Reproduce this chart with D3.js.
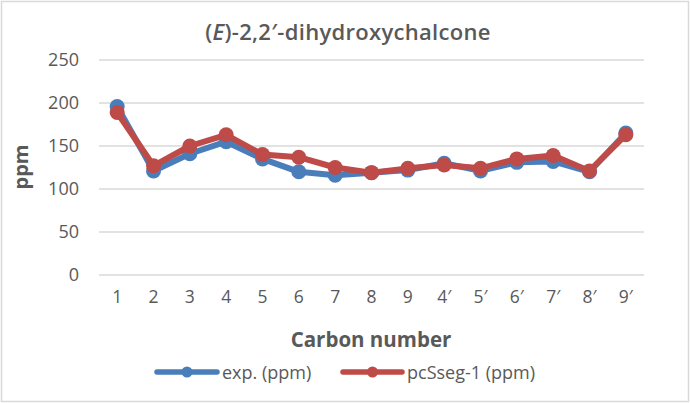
<!DOCTYPE html>
<html>
<head>
<meta charset="utf-8">
<script src="https://cdn.jsdelivr.net/npm/d3@7"></script>
<style>
  body { margin: 0; background: #fff; }
  text { font-family: "Open Sans", "Noto Sans", sans-serif; fill: #595959; }
</style>
</head>
<body>
<div id="chart"></div>
<script>
// chart data
var carbons = ["1", "2", "3", "4", "5", "6", "7", "8", "9", "4\u2032", "5\u2032", "6\u2032", "7\u2032", "8\u2032", "9\u2032"];
var expPpm = [196, 121, 141, 155, 135, 120, 116, 119, 122, 130, 121, 131, 132, 120, 165];
var pcsPpm = [189, 127, 150, 163, 140, 137, 125, 119, 124, 128, 124, 135, 139, 121, 163];
var yTicks = [0, 50, 100, 150, 200, 250];

var seriesList = [
    { name: "exp. (ppm)", values: expPpm, color: "#4a7ebb" },
    { name: "pcSseg-1 (ppm)", values: pcsPpm, color: "#be4b48" }
];

var W = 690, H = 403;
var margin = { top: 60, right: 46, bottom: 128, left: 99 };
var width = W - margin.left - margin.right,
    height = H - margin.top - margin.bottom;

var svg = d3.select("#chart").append("svg")
    .attr("width", W)
    .attr("height", H);

// outer border
svg.append("rect")
    .attr("x", 1.5).attr("y", 1.5)
    .attr("width", W - 3).attr("height", H - 3)
    .attr("fill", "#fff")
    .attr("stroke", "#d9d9d9")
    .attr("stroke-width", 1.5);

var g = svg.append("g")
    .attr("transform", "translate(" + margin.left + "," + margin.top + ")");

var x = d3.scaleBand()
    .domain(carbons)
    .range([0, width]);

var y = d3.scaleLinear()
    .domain([0, 250])
    .range([height, 0]);

// gridlines
g.selectAll(".grid")
    .data(yTicks)
    .enter().append("line")
    .attr("class", "grid")
    .attr("x1", 0).attr("x2", width)
    .attr("y1", function(d) { return y(d); })
    .attr("y2", function(d) { return y(d); })
    .attr("stroke", "#d9d9d9")
    .attr("stroke-width", 1.3);

// y axis
var yAxis = d3.axisLeft(y).tickValues(yTicks).tickSize(0).tickPadding(20);
var yg = g.append("g").call(yAxis);
yg.select(".domain").remove();
yg.selectAll("text").style("font-size", "18px").attr("fill", "#595959");

// x axis
var xAxis = d3.axisBottom(x).tickSize(0).tickPadding(16);
var xg = g.append("g").attr("transform", "translate(0," + height + ")").call(xAxis);
xg.select(".domain").remove();
xg.selectAll("text").style("font-size", "17.5px").attr("fill", "#595959");

// title
var title = svg.append("text")
    .attr("x", 348).attr("y", 40)
    .attr("text-anchor", "middle")
    .style("font-size", "22px")
    .style("font-weight", "600")
    .style("letter-spacing", "0.3px");
title.append("tspan").text("(");
title.append("tspan").style("font-style", "italic").text("E");
title.append("tspan").text(")-2,2\u2032-dihydroxychalcone");

// axis titles
svg.append("text")
    .attr("x", 371).attr("y", 347)
    .attr("text-anchor", "middle")
    .style("font-size", "20.5px")
    .style("font-weight", "bold")
    .text("Carbon number");

svg.append("text")
    .attr("transform", "translate(28,167) rotate(-90)")
    .attr("text-anchor", "middle")
    .style("font-size", "20px")
    .style("font-weight", "bold")
    .text("ppm");

// lines and markers
var line = d3.line()
    .x(function(d, i) { return x(carbons[i]) + x.bandwidth() / 2; })
    .y(function(d) { return y(d); });

seriesList.forEach(function(s) {
    var sg = g.append("g");
    sg.append("path")
        .datum(s.values)
        .attr("fill", "none")
        .attr("stroke", s.color)
        .attr("stroke-width", 6)
        .attr("stroke-linejoin", "round")
        .attr("d", line);
    sg.selectAll("circle")
        .data(s.values)
        .enter().append("circle")
        .attr("cx", function(d, i) { return x(carbons[i]) + x.bandwidth() / 2; })
        .attr("cy", function(d) { return y(d); })
        .attr("r", 7.5)
        .attr("fill", s.color);
});

// legend
var legendPos = [{ x0: 157, x1: 217, tx: 222 }, { x0: 343, x1: 402, tx: 407 }];
var legend = svg.append("g");
seriesList.forEach(function(s, i) {
    var p = legendPos[i];
    legend.append("line")
        .attr("x1", p.x0).attr("x2", p.x1)
        .attr("y1", 372).attr("y2", 372)
        .attr("stroke", s.color)
        .attr("stroke-width", 5.5)
        .attr("stroke-linecap", "round");
    legend.append("circle")
        .attr("cx", (p.x0 + p.x1) / 2).attr("cy", 372)
        .attr("r", 5.5)
        .attr("fill", s.color);
    legend.append("text")
        .attr("x", p.tx).attr("y", 379)
        .style("font-size", "18px")
        .text(s.name);
});
</script>
</body>
</html>
